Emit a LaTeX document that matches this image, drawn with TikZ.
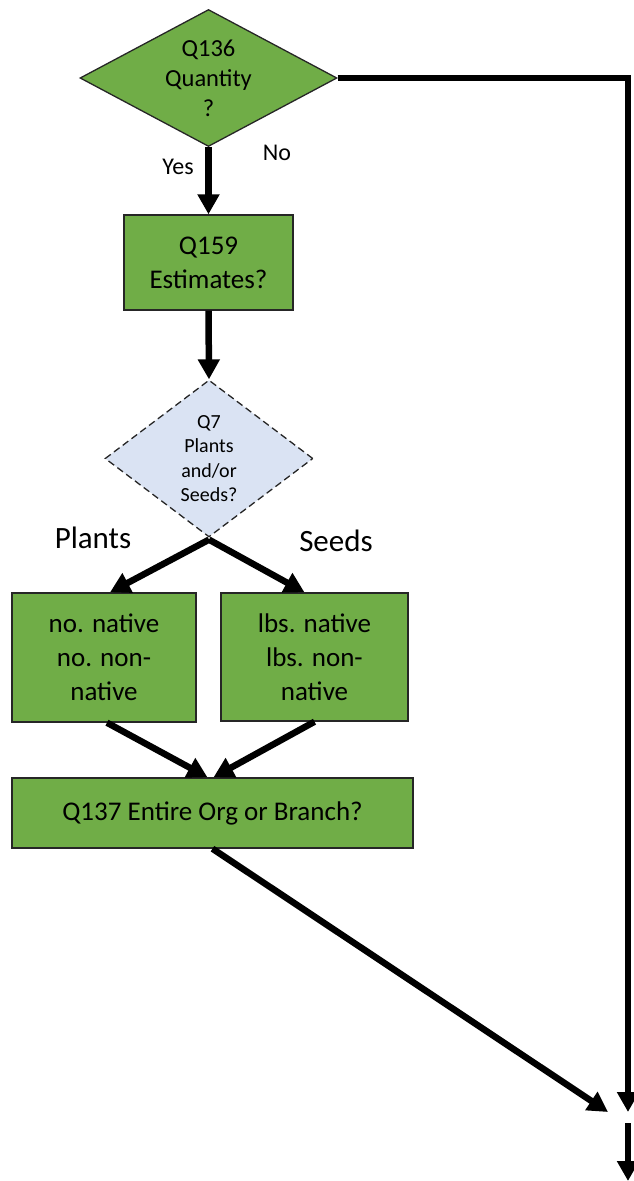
\documentclass[tikz,border=0pt]{standalone}
\usepackage{fontspec}
\setmainfont{Carlito}
\usetikzlibrary{shapes.geometric,arrows.meta,calc}
\definecolor{boxgreen}{HTML}{70AD47}
\definecolor{qblue}{HTML}{DAE3F3}
\begin{document}
\begin{tikzpicture}[x=1pt,y=-1pt,
  box/.style={draw=black!85, line width=1.4pt, fill=boxgreen, inner sep=0pt,
    align=center, font=\fontsize{27}{34}\selectfont},
  decision/.style={diamond, draw=black!85, line width=1.3pt, fill=boxgreen,
    inner sep=0pt, align=center, font=\fontsize{24.5}{30}\selectfont},
  optional/.style={diamond, draw=black!85, line width=1.3pt, fill=qblue,
    dash pattern=on 7pt off 4pt, inner sep=0pt, align=center,
    font=\fontsize{20}{24.4}\selectfont},
  lbl/.style={inner sep=0pt, font=\fontsize{24}{29}\selectfont},
  biglbl/.style={inner sep=0pt, font=\fontsize{31}{37}\selectfont},
  flow/.style={line width=6.5pt, line join=miter,
    -{Triangle[length=20pt,width=21pt]}}
]
\useasboundingbox (0,0) rectangle (634,1181);

% decisions and steps
\node[decision, minimum width=257pt, minimum height=137pt, shape aspect=1.876]
  (q136) at (208.5,78) {Q136\\Quantity\\?};
\node[box, minimum width=169pt, minimum height=95pt] (q159) at (208.5,262.5)
  {Q159\\Estimates?};
\node[optional, minimum width=208pt, minimum height=157pt, shape aspect=1.325]
  (q7) at (209,458.5) {Q7\\Plants\\and/or\\Seeds?};
\node[box, minimum width=184pt, minimum height=129pt] (plants) at (104,657.5)
  {no. native\\no. non-\\native};
\node[box, minimum width=187pt, minimum height=128pt] (seeds) at (314.5,657)
  {lbs. native\\lbs. non-\\native};
\node[box, minimum width=401pt, minimum height=70pt] (q137) at (212.5,813)
  {Q137 Entire Org or Branch?};

% branch labels
\node[lbl] (yes) at (178,167) {Yes};
\node[lbl] (no) at (277,153) {No};
\node[biglbl] (plantslbl) at (93,538) {Plants};
\node[biglbl] (seedslbl) at (336,541) {Seeds};

% free ends of the exit path
\coordinate (corner) at (628,78);
\coordinate (exitA) at (628,1112);
\coordinate (exitB) at (608,1112);
\coordinate (outTop) at (628,1123);
\coordinate (outEnd) at (628,1181);

% connectors
\draw[flow] (q136.south) -- (q159.north);
\draw[flow] (q159.south) -- (q7.north);
\draw[flow] ($(q7.south)+(0,2)$) -- ($(plants.north)+(6,0)$);
\draw[flow] ($(q7.south)+(0,2)$) -- ($(seeds.north)+(-10,0)$);
\draw[flow] ($(plants.south)+(3,0)$) -- ($(q137.north)+(-5,0)$);
\draw[flow] (seeds.south) -- ($(q137.north)+(1,0)$);
\draw[flow] (q137.south) -- (exitB);
\draw[flow] (q136.east) -- (corner) -- (exitA);
\draw[flow] (outTop) -- (outEnd);
\end{tikzpicture}
\end{document}
